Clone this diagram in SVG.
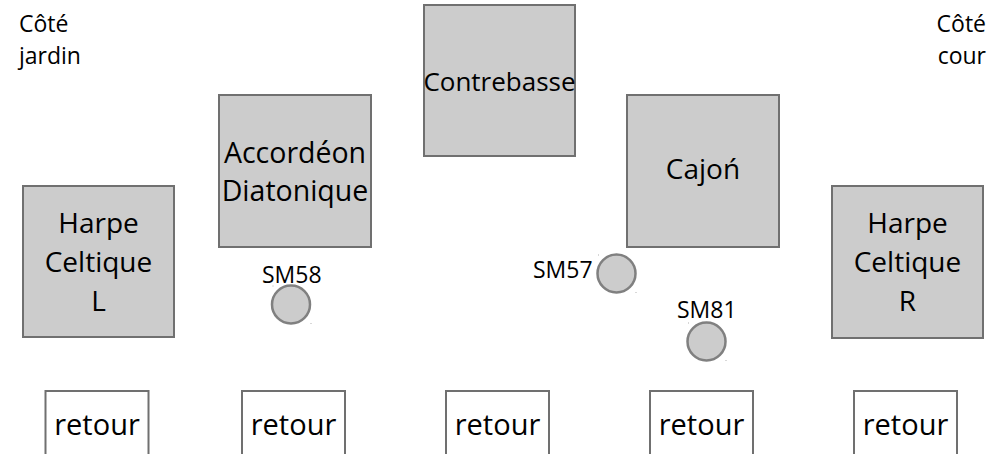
<svg xmlns="http://www.w3.org/2000/svg" width="991" height="454" viewBox="0 0 991 454">
<style>
.box{fill:#cccccc;stroke:#707070;stroke-width:2}
.ret{fill:#ffffff;stroke:#707070;stroke-width:2}
.mic{fill:#cccccc;stroke:#808080;stroke-width:2.5}
.dot{fill:#b0b0b0}
text{font-family:"Open Sans","Noto Sans",sans-serif;fill:#000}
.big{font-size:28px;text-anchor:middle}
.lbl{font-size:23px}
.side{font-size:23px}
</style>
<rect width="991" height="454" fill="#ffffff"/>
<g id="cote-jardin"><text class="side" x="19" y="32">Côté</text><text class="side" x="19" y="64">jardin</text></g>
<g id="cote-cour"><text class="side" x="986" y="32" text-anchor="end">Côté</text><text class="side" x="986" y="64" text-anchor="end">cour</text></g>
<g id="harpe-l"><rect class="box" x="23" y="186" width="151" height="151"/><text class="big" x="98.5" y="233">Harpe</text><text class="big" x="98.5" y="272">Celtique</text><text class="big" x="98.5" y="311">L</text></g>
<g id="accordeon"><rect class="box" x="219" y="95" width="152" height="152"/><text class="big" x="295" y="163" style="font-size:28.5px">Accordéon</text><text class="big" x="295" y="201" style="font-size:28.5px">Diatonique</text></g>
<g id="contrebasse"><rect class="box" x="424" y="5" width="151" height="151"/><text class="big" x="499.5" y="91" style="font-size:26px">Contrebasse</text></g>
<g id="cajon"><rect class="box" x="627" y="95" width="152" height="152"/><text class="big" x="703" y="179">Cajoń</text></g>
<g id="harpe-r"><rect class="box" x="832" y="186" width="151" height="152"/><text class="big" x="907.5" y="233">Harpe</text><text class="big" x="907.5" y="272">Celtique</text><text class="big" x="907.5" y="311">R</text></g>
<g id="sm58"><circle class="mic" cx="291" cy="304.5" r="19"/><rect class="dot" x="272.5" y="285.5" width="1" height="1"/><rect class="dot" x="310.5" y="323" width="1" height="1"/><text class="lbl" x="262" y="283">SM58</text></g>
<g id="sm57"><circle class="mic" cx="616.5" cy="273.5" r="19"/><rect class="dot" x="598" y="254.5" width="1" height="1"/><rect class="dot" x="635.5" y="292" width="1" height="1"/><text class="lbl" x="533" y="278">SM57</text></g>
<g id="sm81"><circle class="mic" cx="706.5" cy="341.5" r="19"/><rect class="dot" x="688" y="322.5" width="1" height="1"/><rect class="dot" x="725.5" y="360" width="1" height="1"/><text class="lbl" x="677" y="318">SM81</text></g>
<g id="retour-1"><rect class="ret" x="45.5" y="391" width="103" height="80"/><text class="big" x="97" y="435" style="font-size:29px">retour</text></g>
<g id="retour-2"><rect class="ret" x="242" y="391" width="103" height="80"/><text class="big" x="293.5" y="435" style="font-size:29px">retour</text></g>
<g id="retour-3"><rect class="ret" x="446" y="391" width="103" height="80"/><text class="big" x="497.5" y="435" style="font-size:29px">retour</text></g>
<g id="retour-4"><rect class="ret" x="650" y="391" width="103" height="80"/><text class="big" x="701.5" y="435" style="font-size:29px">retour</text></g>
<g id="retour-5"><rect class="ret" x="854" y="391" width="103" height="80"/><text class="big" x="905.5" y="435" style="font-size:29px">retour</text></g>
<g id="connectors"></g>
</svg>
